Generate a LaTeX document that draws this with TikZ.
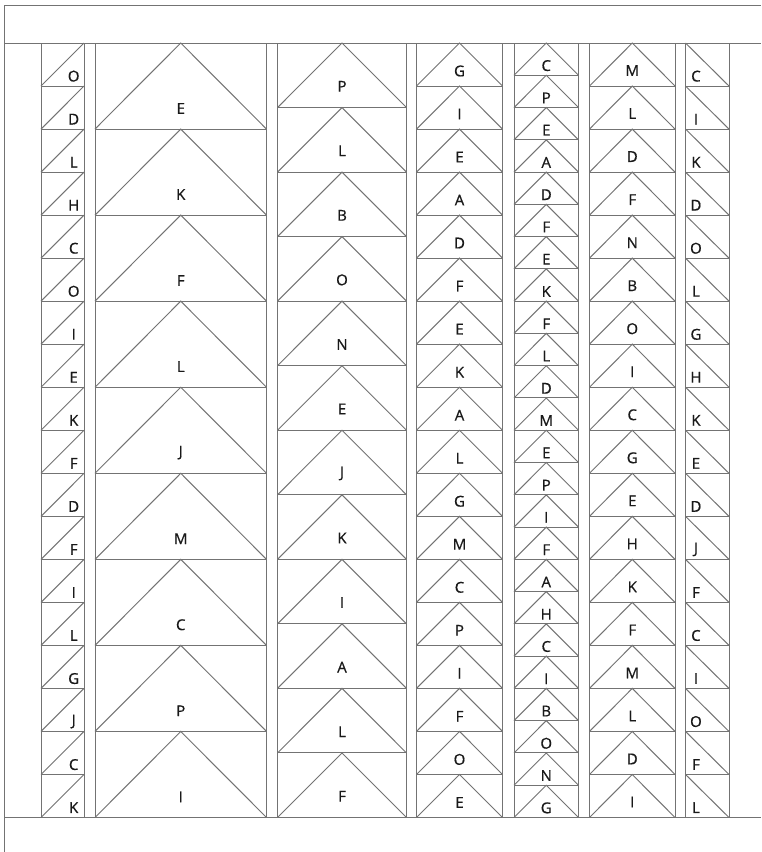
\documentclass[tikz,border=0pt]{standalone}
\usepackage{fontspec}
\setmainfont{Open Sans}
\newfontfamily\qfont{Open Sans}[FakeBold=0.7]
\tikzset{
  quilt/.style={draw=black!55, line width=1pt, line join=miter},
  lab/.style={inner sep=0pt, font=\fontsize{15}{17}\qfont, text=black!90}
}
% geese column: #1 name, #2 xl, #3 xr, #4 rows, #5 letters, #6 label fraction
\newcommand\qgeese[6]{%
  \foreach \qL [count=\qi from 0] in {#5} {
    \pgfmathsetmacro\qH{774.5/#4}
    \pgfmathsetmacro\qT{43+\qi*\qH}
    \pgfmathsetmacro\qB{\qT+\qH}
    \pgfmathsetmacro\qM{(#2+#3)/2}
    \pgfmathsetmacro\qY{\qT+#6*\qH}
    \draw[quilt] (#2,\qT) rectangle (#3,\qB);
    \draw[quilt] (#2,\qB) -- (\qM,\qT) -- (#3,\qB);
    \node[lab] (#1-\qi) at (\qM,\qY) {\qL};
  }}
% half-square column: #1 name, #2 xl, #3 xr, #4 letters, #5 0 = rising diagonal, 1 = falling
\newcommand\qhalf[5]{%
  \foreach \qL [count=\qi from 0] in {#4} {
    \pgfmathsetmacro\qH{774.5/18}
    \pgfmathsetmacro\qT{43+\qi*\qH}
    \pgfmathsetmacro\qB{\qT+\qH}
    \pgfmathsetmacro\qY{\qT+0.77*\qH}
    \draw[quilt] (#2,\qT) rectangle (#3,\qB);
    \ifnum#5=0
      \draw[quilt] (#2,\qB) -- (#3,\qT);
      \pgfmathsetmacro\qX{#2+0.76*(#3-#2)}
    \else
      \draw[quilt] (#2,\qT) -- (#3,\qB);
      \pgfmathsetmacro\qX{#2+0.24*(#3-#2)}
    \fi
    \node[lab] (#1-\qi) at (\qX,\qY) {\qL};
  }}
\begin{document}
\begin{tikzpicture}[x=1pt,y=-1pt]
\useasboundingbox (0,0) rectangle (761,852);
\fill[white] (0,0) rectangle (761,852);
% frame
\draw[quilt] (4,852) -- (4,5) -- (761,5);
\draw[quilt] (4,43) -- (761,43);
\draw[quilt] (4,817.5) -- (761,817.5);
% columns
\qhalf{a}{41}{84}{O,D,L,H,C,O,I,E,K,F,D,F,I,L,G,J,C,K}{0}
\qgeese{b}{95}{266.5}{9}{E,K,F,L,J,M,C,P,I}{0.76}
\qgeese{c}{277.5}{406.5}{12}{P,L,B,O,N,E,J,K,I,A,L,F}{0.67}
\qgeese{d}{416.5}{502.5}{18}{G,I,E,A,D,F,E,K,A,L,G,M,C,P,I,F,O,E}{0.65}
\qgeese{e}{514}{578.5}{24}{C,P,E,A,D,F,E,K,F,L,D,M,E,P,I,F,A,H,C,I,B,O,N,G}{0.70}
\qgeese{f}{589.5}{675}{18}{M,L,D,F,N,B,O,I,C,G,E,H,K,F,M,L,D,I}{0.64}
\qhalf{g}{685.5}{729}{C,I,K,D,O,L,G,H,K,E,D,J,F,C,I,O,F,L}{1}
\end{tikzpicture}
\end{document}
